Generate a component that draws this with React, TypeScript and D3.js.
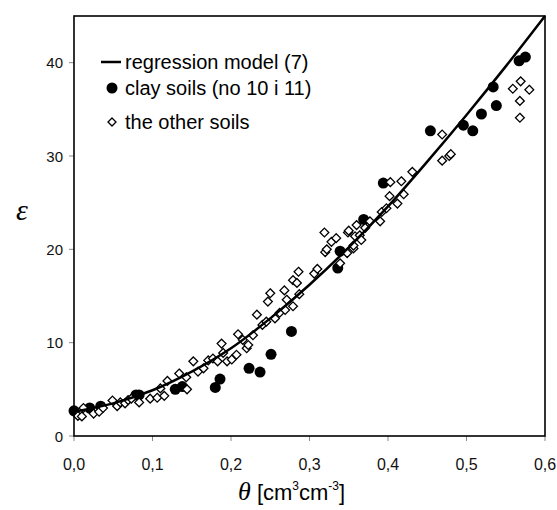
import React from "react";
import * as d3 from "d3";

const W = 557;
const H = 510;

// regression model (7)
const modelTheta = [0, 0.05, 0.1, 0.15, 0.2, 0.25, 0.3, 0.35, 0.4, 0.45, 0.5, 0.55, 0.6];
const modelEps = [2.6, 3.5, 4.9, 6.9, 9.4, 12.6, 16.2, 20.2, 24.6, 29.4, 34.4, 39.6, 45.0];

// clay soils (no 10 i 11)
const clayTheta = [0.0, 0.02, 0.034, 0.079, 0.083, 0.129, 0.138, 0.18, 0.186, 0.223, 0.237, 0.251, 0.277, 0.336, 0.339, 0.369, 0.394, 0.454, 0.496, 0.508, 0.519, 0.534, 0.538, 0.567, 0.575];
const clayEps = [2.7, 3.0, 3.2, 4.4, 4.4, 5.0, 5.3, 5.2, 6.1, 7.25, 6.85, 8.75, 11.2, 18.0, 19.8, 23.2, 27.1, 32.7, 33.3, 32.7, 34.5, 37.4, 35.4, 40.2, 40.6];

// the other soils
const otherTheta = [
  0.005, 0.01, 0.012, 0.025, 0.032, 0.037, 0.049, 0.055, 0.059, 0.065, 0.069, 0.073, 0.083, 0.097, 0.106,
  0.11, 0.115, 0.119, 0.134, 0.143, 0.144, 0.152, 0.158, 0.165, 0.171, 0.177, 0.183, 0.188, 0.19, 0.195,
  0.201, 0.207, 0.209, 0.215, 0.22, 0.222, 0.228, 0.233, 0.24, 0.245, 0.247, 0.25, 0.256, 0.262, 0.268,
  0.269, 0.271, 0.279, 0.279, 0.284, 0.286, 0.287, 0.306, 0.31, 0.319, 0.32, 0.322, 0.328, 0.334, 0.339,
  0.348, 0.349, 0.35, 0.356, 0.356, 0.358, 0.36, 0.364, 0.366, 0.371, 0.377, 0.39, 0.392, 0.398, 0.402,
  0.403, 0.412, 0.417, 0.42, 0.431, 0.469, 0.469, 0.478, 0.48, 0.559, 0.568, 0.568, 0.569, 0.58,
];
const otherEps = [
  2.15, 2.1, 3.0, 2.4, 2.6, 3.0, 3.8, 3.2, 3.6, 3.5, 3.85, 4.0, 3.6, 4.0, 4.1,
  5.1, 4.3, 5.9, 6.7, 6.3, 5.0, 8.0, 6.9, 7.25, 8.1, 8.3, 8.0, 9.9, 8.9, 8.0,
  8.2, 8.7, 10.9, 10.3, 9.4, 9.75, 10.8, 13.0, 11.9, 12.25, 14.4, 15.3, 12.6, 13.2, 15.6,
  13.5, 14.6, 13.9, 16.7, 16.4, 17.6, 15.2, 17.4, 17.9, 21.8, 19.7, 20.0, 20.8, 21.2, 18.5,
  19.6, 21.8, 22.0, 20.1, 20.4, 21.4, 22.6, 21.5, 21.0, 22.3, 23.0, 23.0, 24.0, 24.4, 25.7,
  27.2, 24.9, 27.3, 25.9, 28.3, 32.3, 29.5, 30.0, 30.2, 37.2, 35.9, 34.1, 38.0, 37.1,
];

const xTicks = [0, 0.1, 0.2, 0.3, 0.4, 0.5, 0.6];
const yTicks = [0, 10, 20, 30, 40];
const legendLabels = ["regression model (7)", "clay soils (no 10 i 11)", "the other soils"];

const SANS = "'Liberation Sans', Arial, sans-serif";
const SERIF = "'Liberation Serif', 'Times New Roman', serif";

function diamondPath(cx: number, cy: number, r: number) {
  return `M${cx},${cy - r}L${cx + r},${cy}L${cx},${cy + r}L${cx - r},${cy}Z`;
}

export default function App() {
  const left = 74, right = 545, top = 16, bottom = 436;
  const x = d3.scaleLinear().domain([0, 0.6]).range([left, right]);
  const y = d3.scaleLinear().domain([0, 45]).range([bottom, top]);

  const line = d3
    .line<number>()
    .x((_, i) => x(modelTheta[i]))
    .y((d) => y(d))
    .curve(d3.curveCatmullRom.alpha(0.5));

  const fmt = (v: number) => v.toFixed(1).replace(".", ",");

  return (
    <svg width={W} height={H} style={{ position: "absolute", left: 0, top: 0, background: "#fff" }}>
      <rect x={0} y={0} width={W} height={H} fill="#fff" />
      {xTicks.map((t) => (
        <g key={"xt" + t}>
          <line x1={x(t)} x2={x(t)} y1={bottom} y2={bottom + 5} stroke="#888" strokeWidth={1} />
          <text x={x(t)} y={470} textAnchor="middle" fontFamily={SANS} fontSize={16} fill="#111">
            {fmt(t)}
          </text>
        </g>
      ))}
      {yTicks.map((t) => (
        <g key={"yt" + t}>
          <line x1={left - 5} x2={left} y1={y(t)} y2={y(t)} stroke="#888" strokeWidth={1} />
          <text x={63} y={y(t) + 5.5} textAnchor="end" fontFamily={SANS} fontSize={15} fill="#111">
            {t}
          </text>
        </g>
      ))}
      <g>
        {clayTheta.map((t, i) => (
          <circle key={"c" + i} cx={x(t)} cy={y(clayEps[i])} r={5.5} fill="#000" />
        ))}
      </g>
      <g>
        {otherTheta.map((t, i) => (
          <path key={"d" + i} d={diamondPath(x(t), y(otherEps[i]), 4.4)} fill="#fff" stroke="#000" strokeWidth={1.3} />
        ))}
      </g>
      <path d={line(modelEps) || ""} fill="none" stroke="#000" strokeWidth={2.5} />
      <rect x={left} y={top} width={right - left} height={bottom - top} fill="none" stroke="#000" strokeWidth={1.6} />
      {/* legend */}
      <line x1={101} x2={121} y1={62} y2={62} stroke="#000" strokeWidth={2.5} />
      <text x={125} y={69} fontFamily={SANS} fontSize={20} fill="#000">{legendLabels[0]}</text>
      <circle cx={112} cy={88} r={5.5} fill="#000" />
      <text x={125} y={95} fontFamily={SANS} fontSize={20} fill="#000">{legendLabels[1]}</text>
      <path d={diamondPath(112, 122, 4)} fill="#fff" stroke="#000" strokeWidth={1.3} />
      <text x={125} y={129} fontFamily={SANS} fontSize={20} fill="#000">{legendLabels[2]}</text>
      {/* axis titles */}
      <text x={22} y={220} textAnchor="middle" fontFamily={SERIF} fontStyle="italic" fontSize={30} fill="#000">ε</text>
      <text x={238} y={500} textAnchor="start" fill="#000">
        <tspan fontFamily={SERIF} fontStyle="italic" fontSize={26}>θ</tspan>
        <tspan fontFamily={SANS} fontSize={22}> [cm</tspan>
        <tspan fontFamily={SANS} fontSize={12} dy={-10}>3</tspan>
        <tspan fontFamily={SANS} fontSize={22} dy={10}>cm</tspan>
        <tspan fontFamily={SANS} fontSize={12} dy={-10}>-3</tspan>
        <tspan fontFamily={SANS} fontSize={22} dy={10}>]</tspan>
      </text>
    </svg>
  );
}
